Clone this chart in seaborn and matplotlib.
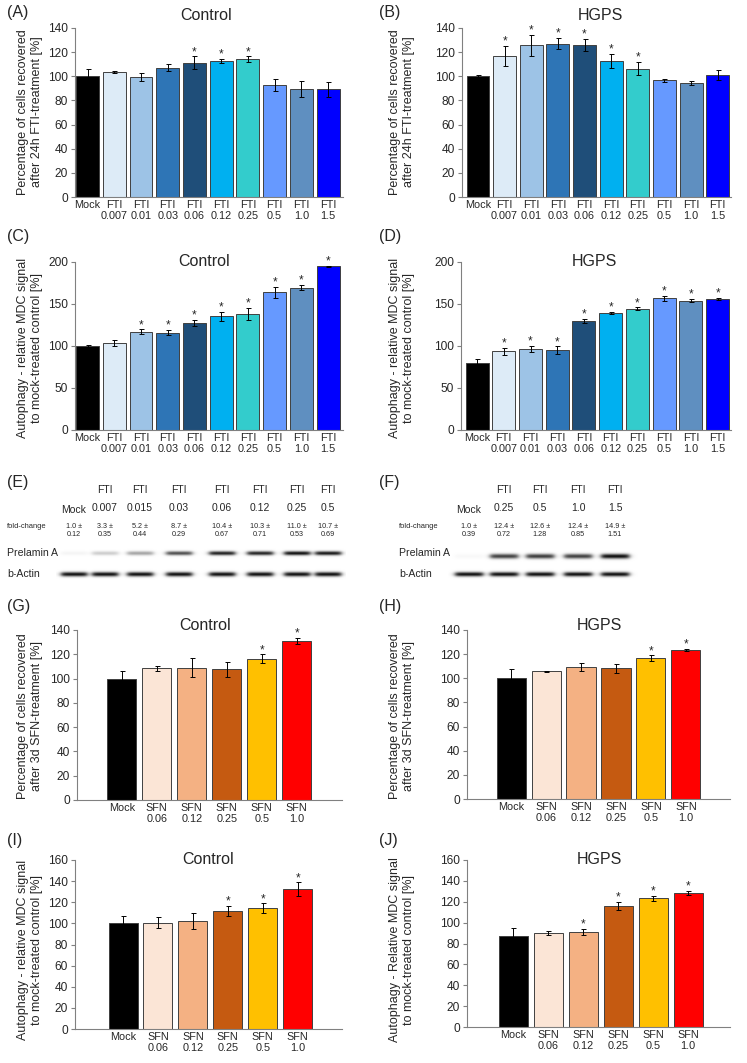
import numpy as np
import pandas as pd
import matplotlib
matplotlib.use("Agg")
import matplotlib.pyplot as plt
import seaborn as sns

# ---------------- data ----------------
fti_labels = ["Mock", "FTI\n0.007", "FTI\n0.01", "FTI\n0.03", "FTI\n0.06",
              "FTI\n0.12", "FTI\n0.25", "FTI\n0.5", "FTI\n1.0", "FTI\n1.5"]
fti_colors = ["#000000", "#DDEBF7", "#9DC3E6", "#2E75B6", "#1F4E79",
              "#00B0F0", "#33CCCC", "#6699FF", "#5F8FC0", "#0000FF"]

a_vals = [100, 103.6, 99.4, 107, 111.4, 112.5, 114.2, 93, 89.2, 89.2]
a_err = [6, 1, 3.5, 3, 5, 1.7, 2.2, 5, 6.5, 6.3]
a_sig = [0, 0, 0, 0, 1, 1, 1, 0, 0, 0]

b_vals = [100, 116.7, 125.6, 127, 126, 112.5, 106.4, 96.7, 94.4, 100.8]
b_err = [0.8, 8.3, 9, 4.7, 5, 5.8, 5.5, 1.2, 1.5, 4]
b_sig = [0, 1, 1, 1, 1, 1, 1, 0, 0, 0]

c_vals = [100, 103.6, 116.7, 115.9, 127.8, 135.3, 138, 163.9, 169.4, 194.8]
c_err = [1, 4, 3, 3, 3.5, 5.5, 7.5, 6.7, 3, 1]
c_sig = [0, 0, 1, 1, 1, 1, 1, 1, 1, 1]

d_vals = [79.4, 93.7, 96.4, 94.8, 130.2, 139.3, 144.4, 156.7, 154, 156]
d_err = [5.5, 4.4, 3.6, 4.8, 2.4, 1.6, 1.6, 2.8, 1.6, 1.6]
d_sig = [0, 1, 1, 1, 1, 1, 1, 1, 1, 1]

sfn_labels = ["Mock", "SFN\n0.06", "SFN\n0.12", "SFN\n0.25", "SFN\n0.5", "SFN\n1.0"]
sfn_colors = ["#000000", "#FBE5D6", "#F4B183", "#C55A11", "#FFC000", "#FF0000"]

g_vals = [100, 108.3, 109.1, 107.5, 116.3, 131.2]
g_err = [6, 2.2, 7.5, 6.3, 3.6, 2.5]
g_sig = [0, 0, 0, 0, 1, 1]

h_vals = [100, 105.8, 109.1, 108.3, 116.8, 123.2]
h_err = [7.5, 0.3, 3.3, 3.6, 2.2, 0.8]
h_sig = [0, 0, 0, 0, 1, 1]

i_vals = [100, 100.6, 102.2, 111.7, 114.2, 132.2]
i_err = [7, 5.4, 7.3, 5, 4.7, 6.6]
i_sig = [0, 0, 0, 1, 1, 1]

j_vals = [87.6, 90, 91.1, 116, 123.3, 128.1]
j_err = [7.6, 1.8, 3, 4, 2.3, 2]
j_sig = [0, 0, 1, 1, 1, 1]

e_lanes = ["Mock", "FTI\n0.007", "FTI\n0.015", "FTI\n0.03", "FTI\n0.06",
           "FTI\n0.12", "FTI\n0.25", "FTI\n0.5"]
e_fold = [1.0, 3.3, 5.2, 8.7, 10.4, 10.3, 11.0, 10.7]
e_fold_sd = [0.12, 0.35, 0.44, 0.29, 0.67, 0.71, 0.53, 0.69]

f_lanes = ["Mock", "FTI\n0.25", "FTI\n0.5", "FTI\n1.0", "FTI\n1.5"]
f_fold = [1.0, 12.4, 12.6, 12.4, 14.9]
f_fold_sd = [0.39, 0.72, 1.28, 0.85, 1.51]

# ---------------- figure ----------------
sns.set_theme(style="white")
plt.rcParams["font.family"] = ["Liberation Sans", "DejaVu Sans"]

W, H = 747, 1063
fig = plt.figure(figsize=(W / 100, H / 100), dpi=100)


def add_ax(x0, y0, x1, y1):
    return fig.add_axes([x0 / W, 1 - y1 / H, (x1 - x0) / W, (y1 - y0) / H])


def ftext(x, y, s, **kw):
    fig.text(x / W, 1 - y / H, s, **kw)


def bar_panel(box, labels, vals, errs, sig, colors, ylim, ystep, xlim, width,
              title, title_xy, ylabel, ylabel_xy, letter, letter_xy):
    ax = add_ax(*box)
    df = pd.DataFrame({"cond": labels, "val": vals})
    sns.barplot(data=df, x="cond", y="val", hue="cond", palette=colors,
                legend=False, saturation=1, width=width, edgecolor="#404040",
                linewidth=0.7, errorbar=None, ax=ax)
    xs = np.arange(len(vals))
    ax.errorbar(xs, vals, yerr=errs, fmt="none", ecolor="black",
                elinewidth=0.7, capsize=1.8, capthick=0.7)
    for i, (v, e, s) in enumerate(zip(vals, errs, sig)):
        if s:
            ax.annotate("*", (i, v + e), xytext=(0, 1), textcoords="offset points",
                        ha="center", va="baseline", fontsize=8.5)
    ax.set_ylim(*ylim)
    ax.set_yticks(np.arange(ylim[0], ylim[1] + 0.1, ystep))
    ax.set_xlim(*xlim)
    ax.set_xticks(xs)
    ax.set_xticklabels(labels, fontsize=7.8, linespacing=1.1)
    ax.set_xlabel("")
    ax.set_ylabel("")
    for sp in ["top", "right"]:
        ax.spines[sp].set_visible(False)
    for sp in ["left", "bottom"]:
        ax.spines[sp].set_color("#808080")
        ax.spines[sp].set_linewidth(0.8)
    ax.tick_params(axis="y", left=True, length=3, width=0.8, color="#808080",
                   direction="out", labelsize=8.6, pad=2)
    ax.tick_params(axis="x", bottom=False, length=0, pad=2)
    ax.set_facecolor("none")
    ftext(title_xy[0], title_xy[1], title, ha="center", va="center", fontsize=11.5)
    ftext(ylabel_xy[0], ylabel_xy[1], ylabel, rotation=90, ha="center",
          va="center", fontsize=9.0, linespacing=1.2)
    ftext(letter_xy[0], letter_xy[1], letter, ha="left", va="center", fontsize=11.5)
    return ax


lbl_pct_fti = "Percentage of cells recovered\nafter 24h FTI-treatment [%]"
lbl_mdc = "Autophagy - relative MDC signal\nto mock-treated control [%]"
lbl_mdc2 = "Autophagy - Relative MDC signal\nto mock-treated control [%]"
lbl_pct_sfn = "Percentage of cells recovered\nafter 3d SFN-treatment [%]"

bar_panel((75, 28, 343, 197), fti_labels, a_vals, a_err, a_sig, fti_colors,
          (0, 140), 20, (-0.47, 9.56), 0.86, "Control", (206, 16),
          lbl_pct_fti, (30, 112), "(A)", (7, 13))
bar_panel((462, 28, 731, 197), fti_labels, b_vals, b_err, b_sig, fti_colors,
          (0, 140), 20, (-0.6, 9.5), 0.86, "HGPS", (600, 16),
          lbl_pct_fti, (402, 112), "(B)", (379, 13))
bar_panel((75, 262, 343, 430), fti_labels, c_vals, c_err, c_sig, fti_colors,
          (0, 200), 50, (-0.47, 9.56), 0.86, "Control", (204, 261),
          lbl_mdc, (30, 348), "(C)", (7, 237))
bar_panel((461, 262, 731, 430), fti_labels, d_vals, d_err, d_sig, fti_colors,
          (0, 200), 50, (-0.6, 9.5), 0.86, "HGPS", (594, 261),
          lbl_mdc, (402, 348), "(D)", (379, 237))
bar_panel((77, 630, 342, 800), sfn_labels, g_vals, g_err, g_sig, sfn_colors,
          (0, 140), 20, (-1.28, 6.29), 0.83, "Control", (205, 626),
          lbl_pct_sfn, (30, 716), "(G)", (7, 607))
bar_panel((467, 630, 730, 799), sfn_labels, h_vals, h_err, h_sig, sfn_colors,
          (0, 140), 20, (-1.26, 6.26), 0.83, "HGPS", (599, 626),
          lbl_pct_sfn, (402, 716), "(H)", (379, 607))
bar_panel((75, 860, 342, 1029), sfn_labels, i_vals, i_err, i_sig, sfn_colors,
          (0, 160), 20, (-1.375, 6.27), 0.83, "Control", (208, 860),
          lbl_mdc, (30, 950), "(I)", (7, 840))
bar_panel((467, 860, 730, 1027), sfn_labels, j_vals, j_err, j_sig, sfn_colors,
          (0, 160), 20, (-1.33, 6.2), 0.83, "HGPS", (599, 860),
          lbl_mdc2, (402, 950), "(J)", (379, 840))


# ---------------- western blots ----------------
def blot_panel(box, lane_x, lanes, fold, fold_sd, band_w, pre_y, act_y,
               pre_h, act_h, label_x, letter, letter_xy):
    x0, y0, x1, y1 = box
    ax = add_ax(x0, y0, x1, y1)
    xs = np.arange(x0, x1, 0.5)
    ys = np.arange(y0, y1, 0.5)
    X, Y = np.meshgrid(xs, ys)
    img = np.zeros_like(X)
    inten = (np.array(fold) / max(fold)) ** 1.3 * 0.95
    for cx, a in zip(lane_x, inten):
        xprof = (1 / (1 + np.exp(-(X - (cx - band_w / 2)) / 1.5))) * \
                (1 / (1 + np.exp((X - (cx + band_w / 2)) / 1.5)))
        img += a * xprof * np.exp(-((Y - pre_y) / pre_h) ** 2)
        img += 0.95 * xprof * np.exp(-((Y - act_y) / act_h) ** 2)
    ax.imshow(np.clip(img, 0, 1), cmap="gray_r", vmin=0, vmax=1,
              extent=(x0, x1, y1, y0), aspect="auto", interpolation="bilinear")
    ax.set_xlim(x0, x1)
    ax.set_ylim(y1, y0)
    ax.axis("off")
    for cx, lab, fc, sd in zip(lane_x, lanes, fold, fold_sd):
        parts = lab.split("\n")
        if len(parts) == 1:
            ftext(cx, 510, parts[0], ha="center", va="center", fontsize=7.5)
        else:
            ftext(cx, 490, parts[0], ha="center", va="center", fontsize=7.5)
            ftext(cx, 508, parts[1], ha="center", va="center", fontsize=7.5)
        ftext(cx, 527, f"{fc:.1f} \u00b1", ha="center", va="center", fontsize=5.2)
        ftext(cx, 535, f"{sd:.2f}", ha="center", va="center", fontsize=5.2)
    ftext(label_x, 527, "fold-change", ha="left", va="center", fontsize=5.4)
    ftext(label_x, 553, "Prelamin A", ha="left", va="center", fontsize=7.6)
    ftext(label_x, 574, "b-Actin", ha="left", va="center", fontsize=7.6)
    ftext(letter_xy[0], letter_xy[1], letter, ha="left", va="center", fontsize=11.5)


blot_panel((56, 540, 346, 585), [74, 105, 140, 179, 222, 260, 297, 328],
           e_lanes, e_fold, e_fold_sd, 26, 553, 574, 2.0, 2.2,
           7, "(E)", (7, 483))
blot_panel((448, 540, 640, 585), [469, 504, 540, 578, 615],
           f_lanes, f_fold, f_fold_sd, 28, 556, 574, 2.4, 2.2,
           399, "(F)", (379, 483))

fig.savefig("out.png", dpi=100)
